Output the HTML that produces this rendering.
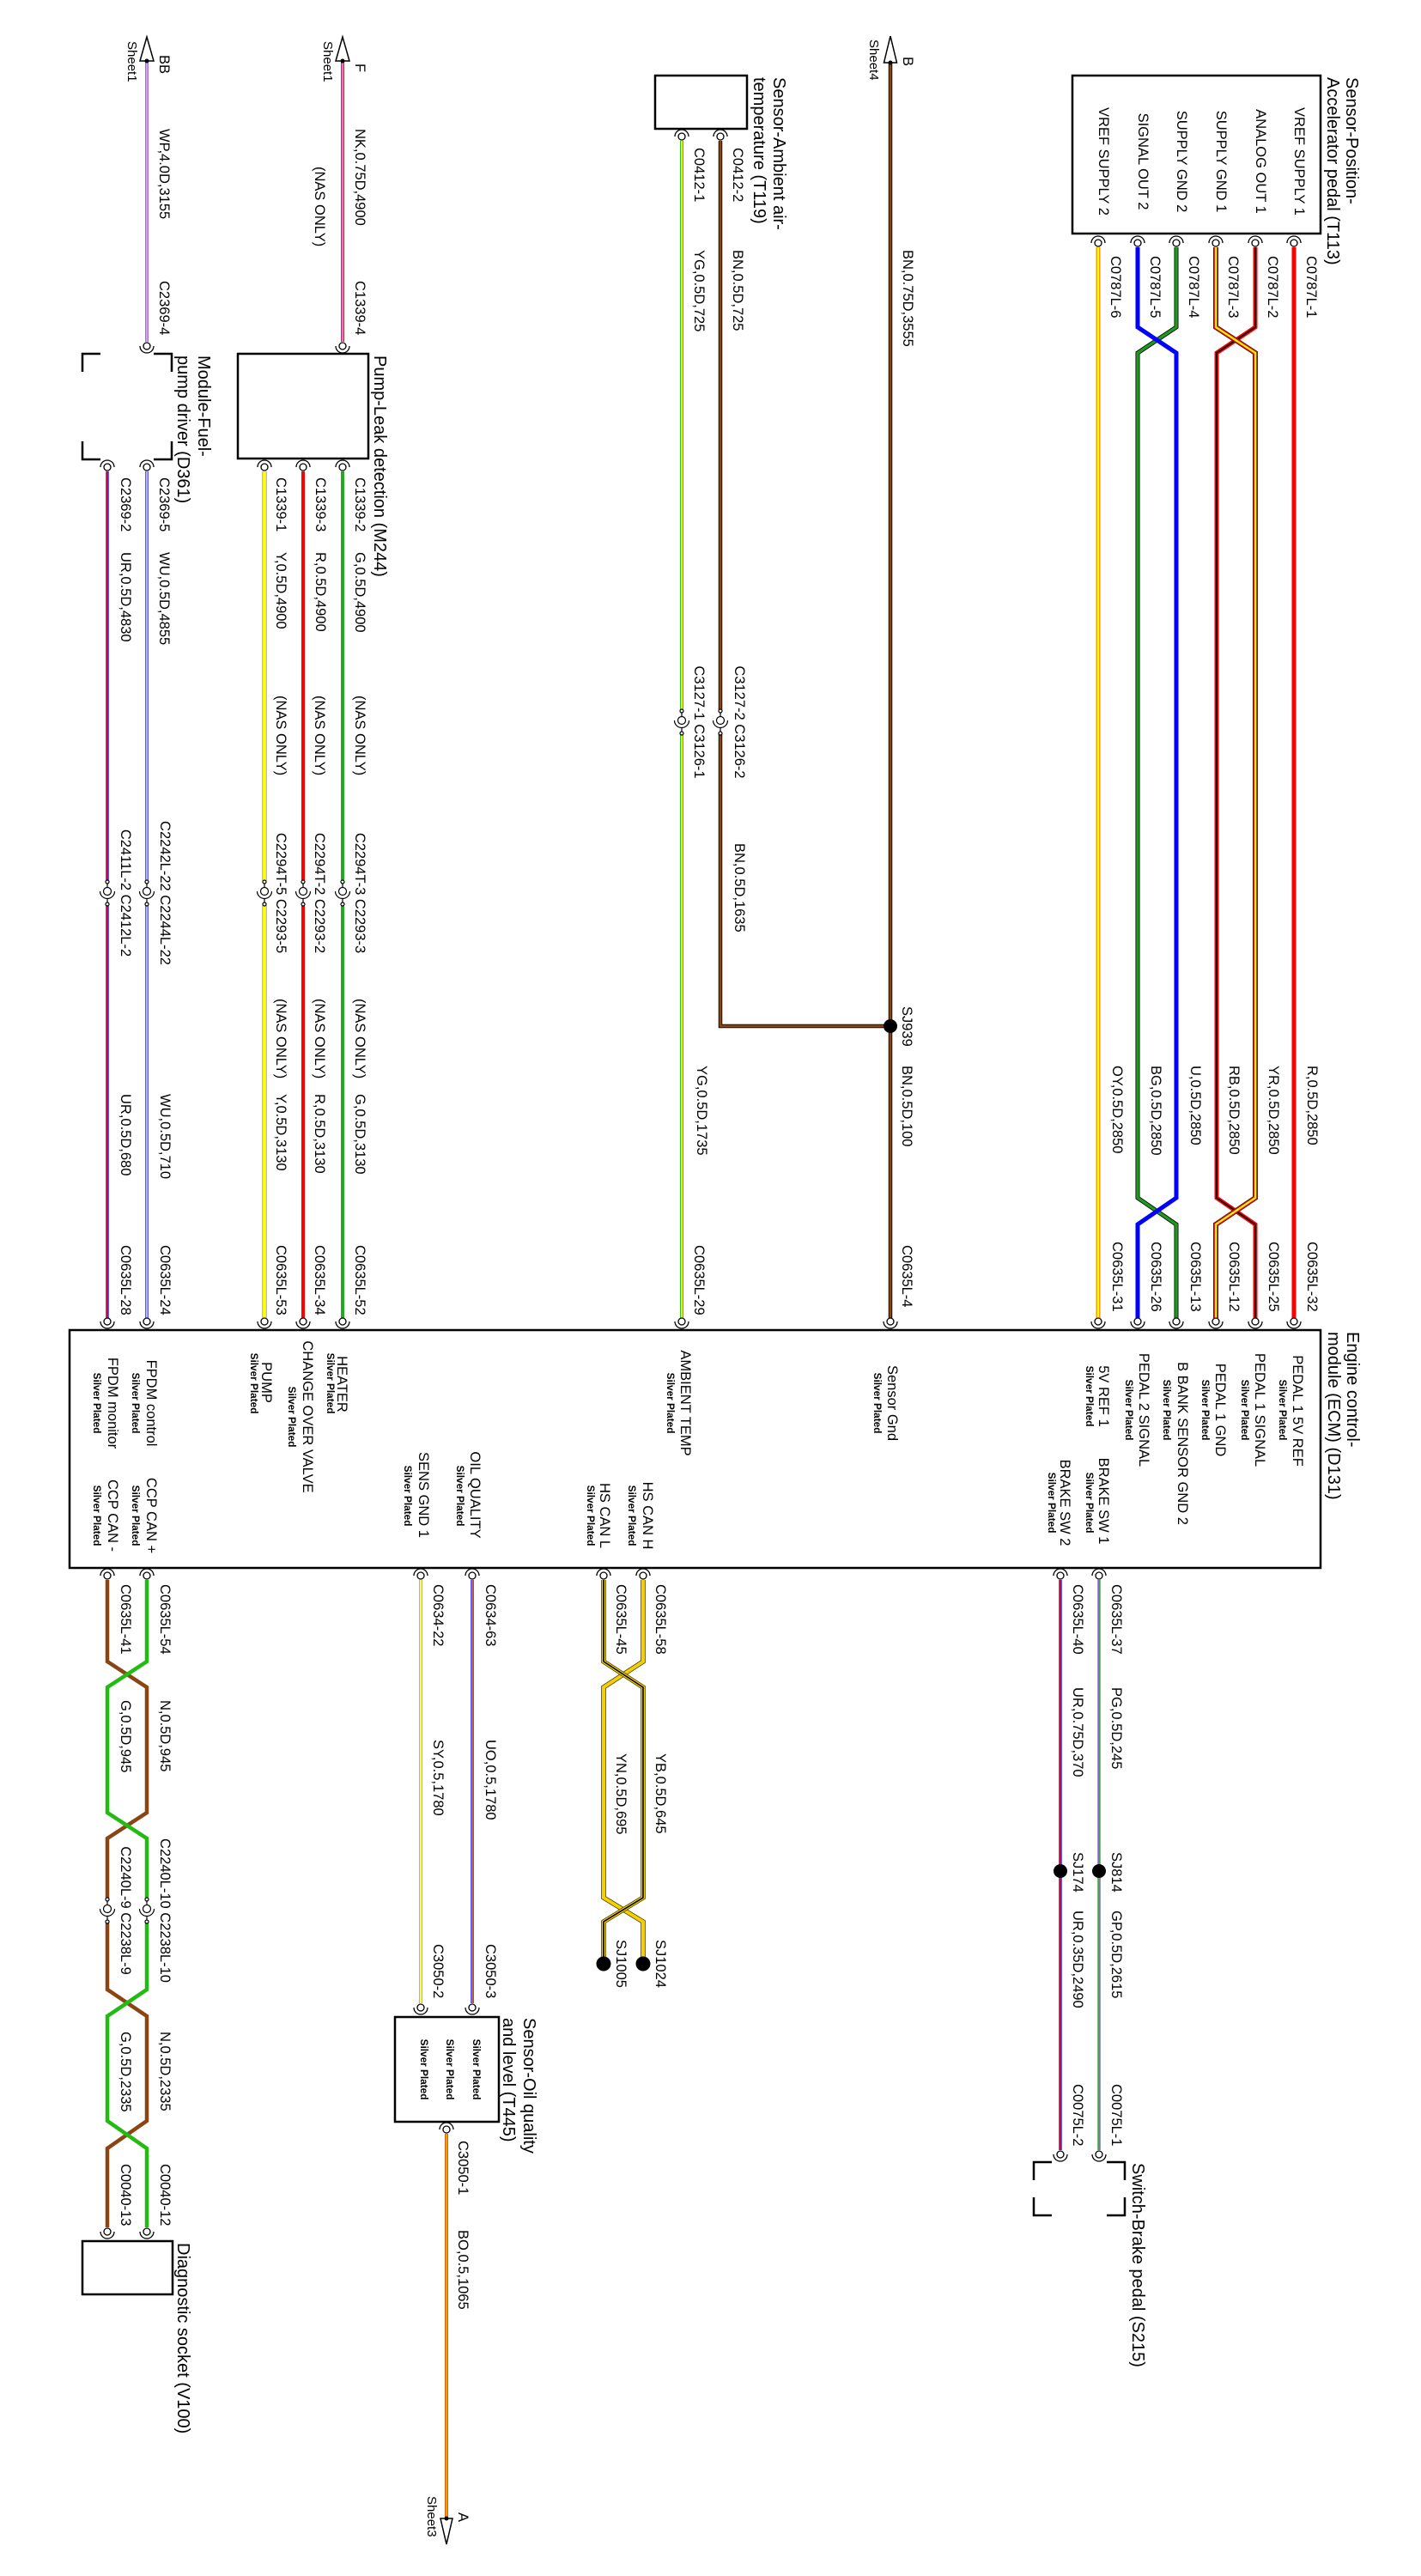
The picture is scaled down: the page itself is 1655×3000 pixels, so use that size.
<!DOCTYPE html>
<html><head><meta charset="utf-8">
<style>
html,body{margin:0;padding:0;background:#fff}
svg{display:block}
.t{font-family:"Liberation Sans",Arial,sans-serif;font-size:16.5px;fill:#000}
.ti{font-size:20px}
.sp{font-size:11.8px;font-weight:bold}
.sh{font-size:15px}
</style></head>
<body>
<svg width="1655" height="3000" viewBox="0 0 1655 3000" xmlns="http://www.w3.org/2000/svg">
<rect width="1655" height="3000" fill="#fff"/>

<!-- ================= WIRES ================= -->
<g fill="none" stroke-linejoin="miter" stroke-linecap="butt">
<!-- BB -->
<path d="M171 71V398" stroke="#9040d0" stroke-width="3.5"/>
<path d="M171 71V398" stroke="#e8c8ff" stroke-width="1.4"/>
<!-- F -->
<path d="M399 71V398" stroke="#8b3a1a" stroke-width="4"/>
<path d="M399 71V398" stroke="#ff66cc" stroke-width="2.4"/>
<!-- Pump wires -->
<path d="M399 549V1027M399 1053V1535" stroke="#22aa22" stroke-width="4"/>
<path d="M353 549V1027M353 1053V1535" stroke="#ff0000" stroke-width="4"/>
<path d="M308 549V1027M308 1053V1535" stroke="#777" stroke-width="5"/>
<path d="M308 549V1027M308 1053V1535" stroke="#ffff00" stroke-width="3.8"/>
<!-- Fuel pump driver wires -->
<path d="M171 549V1027M171 1053V1535" stroke="#2020ff" stroke-width="3.5"/>
<path d="M171 549V1027M171 1053V1535" stroke="#ffffff" stroke-width="1.3"/>
<path d="M125 549V1027M125 1053V1535" stroke="#2020ff" stroke-width="3.5"/>
<path d="M125 549V1027M125 1053V1535" stroke="#ff0000" stroke-width="1.5"/>
<!-- Ambient -->
<path d="M794 164V828M794 854V1535" stroke="#33bb33" stroke-width="4"/>
<path d="M794 164V828M794 854V1535" stroke="#ffff00" stroke-width="1.8"/>
<path d="M839 164V828M839 854V1195H1037" stroke="#000" stroke-width="4.5"/>
<path d="M839 164V828M839 854V1195H1037" stroke="#8b4513" stroke-width="2.8"/>
<!-- B -->
<path d="M1037 73V1535" stroke="#000" stroke-width="4.5"/>
<path d="M1037 73V1535" stroke="#8b4513" stroke-width="2.8"/>
<!-- Pedal wires -->
<path d="M1507 288V1535" stroke="#ff0000" stroke-width="5"/>
<path d="M1462 288V381L1417 411V1395L1462 1426V1535" stroke="#ff0000" stroke-width="5"/>
<path d="M1462 288V381L1417 411V1395L1462 1426V1535" stroke="#000" stroke-width="1.8"/>
<path d="M1416 288V381L1462 411V1395L1416 1426V1535" stroke="#222" stroke-width="6"/>
<path d="M1416 288V381L1462 411V1395L1416 1426V1535" stroke="#ff0000" stroke-width="4.6"/>
<path d="M1416 288V381L1462 411V1395L1416 1426V1535" stroke="#ffff00" stroke-width="2.2"/>
<path d="M1370 288V381L1325 411V1395L1370 1426V1535" stroke="#000" stroke-width="5"/>
<path d="M1370 288V381L1325 411V1395L1370 1426V1535" stroke="#1e9a1e" stroke-width="3.4"/>
<path d="M1325 288V381L1370 411V1395L1325 1426V1535" stroke="#0000ff" stroke-width="5"/>
<path d="M1279 288V1535" stroke="#ff9900" stroke-width="5"/>
<path d="M1279 288V1535" stroke="#ffff00" stroke-width="2"/>

<!-- Brake -->
<path d="M1280 1840V2179" stroke="#a060e0" stroke-width="3.5"/>
<path d="M1280 1840V2179" stroke="#33aa33" stroke-width="1.6"/>
<path d="M1280 2179V2504" stroke="#33aa33" stroke-width="3.5"/>
<path d="M1280 2179V2504" stroke="#a060e0" stroke-width="1.2"/>
<path d="M1235 1840V2504" stroke="#2020ff" stroke-width="3.5"/>
<path d="M1235 1840V2504" stroke="#ff0000" stroke-width="1.5"/>
<!-- CAN -->
<path d="M749 1840V1935L703 1965V2210L749 2238V2287" stroke="#3a3000" stroke-width="5.5"/>
<path d="M749 1840V1935L703 1965V2210L749 2238V2287" stroke="#f5d000" stroke-width="4"/>
<path d="M703 1840V1935L749 1965V2210L703 2238V2287" stroke="#3a3000" stroke-width="5.5"/>
<path d="M703 1840V1935L749 1965V2210L703 2238V2287" stroke="#f5d000" stroke-width="4"/>
<path d="M703 1840V1935L749 1965V2210L703 2238V2287" stroke="#000" stroke-width="1.6"/>
<!-- Oil -->
<path d="M550 1840V2333" stroke="#2020ff" stroke-width="3.5"/>
<path d="M550 1840V2333" stroke="#ff7700" stroke-width="1.4"/>
<path d="M490 1840V2333" stroke="#999" stroke-width="3.5"/>
<path d="M490 1840V2333" stroke="#ffff40" stroke-width="2"/>
<path d="M520 2485V2933" stroke="#b04000" stroke-width="3.8"/>
<path d="M520 2485V2933" stroke="#ff9900" stroke-width="2.4"/>
<!-- Diagnostic twisted pair -->
<path d="M125 1840V1935L171 1965V2111L125 2141V2212M125 2238V2317L171 2348V2470L125 2502V2594" stroke="#8b4513" stroke-width="4.5"/>
<path d="M171 1840V1935L125 1965V2111L171 2141V2212M171 2238V2317L125 2348V2470L171 2502V2594" stroke="#22bb11" stroke-width="4.5"/>
</g>

<!-- ================= BOXES ================= -->
<g fill="none" stroke="#000" stroke-width="2.5">
<rect x="1249" y="88" width="289" height="184"/>
<rect x="763" y="88" width="107" height="62"/>
<rect x="277" y="412" width="152" height="122"/>
<rect x="81" y="1549" width="1457" height="277"/>
<rect x="460" y="2349" width="121" height="122"/>
<rect x="96" y="2610" width="105" height="62"/>
<path d="M96 433V412H117M179 412H200V433M96 514V535H117M179 535H200V514"/>
<path d="M1204 2539V2518H1225M1289 2518H1310V2539M1204 2559V2580H1225M1289 2580H1310V2559"/>
</g>

<!-- ================= ARROWS / DOTS ================= -->
<g stroke="#000" stroke-width="1.5" fill="#fff">
<polygon points="1037,42 1029.5,73 1044.5,73"/>
<polygon points="399,43 391,71 407,71"/>
<polygon points="171,43 163,71 179,71"/>
<polygon points="520,2963 513,2933 527,2933"/>
</g>
<g fill="#000">
<circle cx="1037" cy="73" r="2.5"/><circle cx="399" cy="71" r="2.5"/><circle cx="171" cy="71" r="2.5"/><circle cx="520" cy="2933" r="2.5"/>
<circle cx="1037" cy="1195" r="8"/>
<circle cx="1280" cy="2179" r="8"/><circle cx="1235" cy="2179" r="8"/>
<circle cx="749" cy="2287" r="8.5"/><circle cx="703" cy="2287" r="8.5"/>
</g>

<!-- ================= PINS ================= -->
<g fill="#fff" stroke="#000" stroke-width="1.3">
<!-- arc below -->
<circle cx="171" cy="403" r="4"/><path fill="none" d="M163 403A8 8 0 0 0 179 403"/>
<circle cx="399" cy="403" r="4"/><path fill="none" d="M391 403A8 8 0 0 0 407 403"/>
<circle cx="125" cy="1539" r="4"/><path fill="none" d="M117 1539A8 8 0 0 0 133 1539"/>
<circle cx="171" cy="1539" r="4"/><path fill="none" d="M163 1539A8 8 0 0 0 179 1539"/>
<circle cx="308" cy="1539" r="4"/><path fill="none" d="M300 1539A8 8 0 0 0 316 1539"/>
<circle cx="353" cy="1539" r="4"/><path fill="none" d="M345 1539A8 8 0 0 0 361 1539"/>
<circle cx="399" cy="1539" r="4"/><path fill="none" d="M391 1539A8 8 0 0 0 407 1539"/>
<circle cx="794" cy="1539" r="4"/><path fill="none" d="M786 1539A8 8 0 0 0 802 1539"/>
<circle cx="1037" cy="1539" r="4"/><path fill="none" d="M1029 1539A8 8 0 0 0 1045 1539"/>
<circle cx="1279" cy="1539" r="4"/><path fill="none" d="M1271 1539A8 8 0 0 0 1287 1539"/>
<circle cx="1325" cy="1539" r="4"/><path fill="none" d="M1317 1539A8 8 0 0 0 1333 1539"/>
<circle cx="1370" cy="1539" r="4"/><path fill="none" d="M1362 1539A8 8 0 0 0 1378 1539"/>
<circle cx="1416" cy="1539" r="4"/><path fill="none" d="M1408 1539A8 8 0 0 0 1424 1539"/>
<circle cx="1462" cy="1539" r="4"/><path fill="none" d="M1454 1539A8 8 0 0 0 1470 1539"/>
<circle cx="1507" cy="1539" r="4"/><path fill="none" d="M1499 1539A8 8 0 0 0 1515 1539"/>
<circle cx="490" cy="2338" r="4"/><path fill="none" d="M482 2338A8 8 0 0 0 498 2338"/>
<circle cx="550" cy="2338" r="4"/><path fill="none" d="M542 2338A8 8 0 0 0 558 2338"/>
<circle cx="1235" cy="2509" r="4"/><path fill="none" d="M1227 2509A8 8 0 0 0 1243 2509"/>
<circle cx="1280" cy="2509" r="4"/><path fill="none" d="M1272 2509A8 8 0 0 0 1288 2509"/>
<circle cx="125" cy="2599" r="4"/><path fill="none" d="M117 2599A8 8 0 0 0 133 2599"/>
<circle cx="171" cy="2599" r="4"/><path fill="none" d="M163 2599A8 8 0 0 0 179 2599"/>
<!-- arc above -->
<circle cx="1279" cy="283" r="4"/><path fill="none" d="M1271 283A8 8 0 0 1 1287 283"/>
<circle cx="1325" cy="283" r="4"/><path fill="none" d="M1317 283A8 8 0 0 1 1333 283"/>
<circle cx="1370" cy="283" r="4"/><path fill="none" d="M1362 283A8 8 0 0 1 1378 283"/>
<circle cx="1416" cy="283" r="4"/><path fill="none" d="M1408 283A8 8 0 0 1 1424 283"/>
<circle cx="1462" cy="283" r="4"/><path fill="none" d="M1454 283A8 8 0 0 1 1470 283"/>
<circle cx="1507" cy="283" r="4"/><path fill="none" d="M1499 283A8 8 0 0 1 1515 283"/>
<circle cx="794" cy="159" r="4"/><path fill="none" d="M786 159A8 8 0 0 1 802 159"/>
<circle cx="839" cy="159" r="4"/><path fill="none" d="M831 159A8 8 0 0 1 847 159"/>
<circle cx="308" cy="544" r="4"/><path fill="none" d="M300 544A8 8 0 0 1 316 544"/>
<circle cx="353" cy="544" r="4"/><path fill="none" d="M345 544A8 8 0 0 1 361 544"/>
<circle cx="399" cy="544" r="4"/><path fill="none" d="M391 544A8 8 0 0 1 407 544"/>
<circle cx="125" cy="544" r="4"/><path fill="none" d="M117 544A8 8 0 0 1 133 544"/>
<circle cx="171" cy="544" r="4"/><path fill="none" d="M163 544A8 8 0 0 1 179 544"/>
<circle cx="125" cy="1835" r="4"/><path fill="none" d="M117 1835A8 8 0 0 1 133 1835"/>
<circle cx="171" cy="1835" r="4"/><path fill="none" d="M163 1835A8 8 0 0 1 179 1835"/>
<circle cx="490" cy="1835" r="4"/><path fill="none" d="M482 1835A8 8 0 0 1 498 1835"/>
<circle cx="550" cy="1835" r="4"/><path fill="none" d="M542 1835A8 8 0 0 1 558 1835"/>
<circle cx="703" cy="1835" r="4"/><path fill="none" d="M695 1835A8 8 0 0 1 711 1835"/>
<circle cx="749" cy="1835" r="4"/><path fill="none" d="M741 1835A8 8 0 0 1 757 1835"/>
<circle cx="1235" cy="1835" r="4"/><path fill="none" d="M1227 1835A8 8 0 0 1 1243 1835"/>
<circle cx="1280" cy="1835" r="4"/><path fill="none" d="M1272 1835A8 8 0 0 1 1288 1835"/>
<circle cx="520" cy="2480" r="4"/><path fill="none" d="M512 2480A8 8 0 0 1 528 2480"/>
</g>

<!-- ================= INLINE CONNECTORS ================= -->
<g fill="#fff" stroke="#000" stroke-width="1.2">
<!-- c=1040 -->
<path fill="none" d="M125 1029V1033.5M125 1046.5V1051M171 1029V1033.5M171 1046.5V1051M308 1029V1033.5M308 1046.5V1051M353 1029V1033.5M353 1046.5V1051M399 1029V1033.5M399 1046.5V1051"/>
<circle cx="125" cy="1027" r="2"/><circle cx="125" cy="1053" r="2"/><circle cx="125" cy="1038" r="4.5"/><path fill="none" d="M116.5 1038A8.5 8.5 0 0 0 133.5 1038"/>
<circle cx="171" cy="1027" r="2"/><circle cx="171" cy="1053" r="2"/><circle cx="171" cy="1038" r="4.5"/><path fill="none" d="M162.5 1038A8.5 8.5 0 0 0 179.5 1038"/>
<circle cx="308" cy="1027" r="2"/><circle cx="308" cy="1053" r="2"/><circle cx="308" cy="1038" r="4.5"/><path fill="none" d="M299.5 1038A8.5 8.5 0 0 0 316.5 1038"/>
<circle cx="353" cy="1027" r="2"/><circle cx="353" cy="1053" r="2"/><circle cx="353" cy="1038" r="4.5"/><path fill="none" d="M344.5 1038A8.5 8.5 0 0 0 361.5 1038"/>
<circle cx="399" cy="1027" r="2"/><circle cx="399" cy="1053" r="2"/><circle cx="399" cy="1038" r="4.5"/><path fill="none" d="M390.5 1038A8.5 8.5 0 0 0 407.5 1038"/>
<!-- c=841 -->
<path fill="none" d="M794 830V834.5M794 847.5V852M839 830V834.5M839 847.5V852"/>
<circle cx="794" cy="828" r="2"/><circle cx="794" cy="854" r="2"/><circle cx="794" cy="839" r="4.5"/><path fill="none" d="M785.5 839A8.5 8.5 0 0 0 802.5 839"/>
<circle cx="839" cy="828" r="2"/><circle cx="839" cy="854" r="2"/><circle cx="839" cy="839" r="4.5"/><path fill="none" d="M830.5 839A8.5 8.5 0 0 0 847.5 839"/>
<!-- c=2225 -->
<path fill="none" d="M125 2214V2218.5M125 2231.5V2236M171 2214V2218.5M171 2231.5V2236"/>
<circle cx="125" cy="2212" r="2"/><circle cx="125" cy="2238" r="2"/><circle cx="125" cy="2223" r="4.5"/><path fill="none" d="M116.5 2223A8.5 8.5 0 0 0 133.5 2223"/>
<circle cx="171" cy="2212" r="2"/><circle cx="171" cy="2238" r="2"/><circle cx="171" cy="2223" r="4.5"/><path fill="none" d="M162.5 2223A8.5 8.5 0 0 0 179.5 2223"/>
</g>

<!-- ================= TEXT ================= -->
<g class="t">
<!-- BB / F -->
<text x="186" y="64" transform="rotate(90 186 64)">BB</text>
<text class="t sh" x="149" y="48" transform="rotate(90 149 48)">Sheet1</text>
<text x="186" y="150" transform="rotate(90 186 150)">WP,4.0D,3155</text>
<text x="186" y="327" transform="rotate(90 186 327)">C2369-4</text>
<text x="414" y="74" transform="rotate(90 414 74)">F</text>
<text class="t sh" x="377" y="48" transform="rotate(90 377 48)">Sheet1</text>
<text x="414" y="150" transform="rotate(90 414 150)">NK,0.75D,4900</text>
<text x="367" y="194" transform="rotate(90 367 194)">(NAS ONLY)</text>
<text x="414" y="327" transform="rotate(90 414 327)">C1339-4</text>

<!-- Pump / fuel titles -->
<text class="t ti" x="436" y="414" transform="rotate(90 436 414)">Pump-Leak detection (M244)</text>
<text class="t ti" x="231" y="414" transform="rotate(90 231 414)">Module-Fuel-</text>
<text class="t ti" x="207" y="414" transform="rotate(90 207 414)">pump driver (D361)</text>

<text x="414" y="556" transform="rotate(90 414 556)">C1339-2</text>
<text x="414" y="643" transform="rotate(90 414 643)">G,0.5D,4900</text>
<text x="368" y="556" transform="rotate(90 368 556)">C1339-3</text>
<text x="368" y="643" transform="rotate(90 368 643)">R,0.5D,4900</text>
<text x="322" y="556" transform="rotate(90 322 556)">C1339-1</text>
<text x="322" y="643" transform="rotate(90 322 643)">Y,0.5D,4900</text>
<text x="186" y="556" transform="rotate(90 186 556)">C2369-5</text>
<text x="186" y="643" transform="rotate(90 186 643)">WU,0.5D,4855</text>
<text x="141" y="556" transform="rotate(90 141 556)">C2369-2</text>
<text x="141" y="643" transform="rotate(90 141 643)">UR,0.5D,4830</text>

<text x="414" y="810" transform="rotate(90 414 810)">(NAS ONLY)</text>
<text x="367" y="810" transform="rotate(90 367 810)">(NAS ONLY)</text>
<text x="322" y="810" transform="rotate(90 322 810)">(NAS ONLY)</text>

<text x="414" y="1040" text-anchor="middle" transform="rotate(90 414 1040)">C2294T-3 C2293-3</text>
<text x="367" y="1040" text-anchor="middle" transform="rotate(90 367 1040)">C2294T-2 C2293-2</text>
<text x="322" y="1040" text-anchor="middle" transform="rotate(90 322 1040)">C2294T-5 C2293-5</text>
<text x="187" y="1040" text-anchor="middle" transform="rotate(90 187 1040)">C2242L-22 C2244L-22</text>
<text x="141" y="1040" text-anchor="middle" transform="rotate(90 141 1040)">C2411L-2 C2412L-2</text>

<text x="414" y="1163" transform="rotate(90 414 1163)">(NAS ONLY)</text>
<text x="367" y="1163" transform="rotate(90 367 1163)">(NAS ONLY)</text>
<text x="322" y="1163" transform="rotate(90 322 1163)">(NAS ONLY)</text>
<text x="414" y="1274" transform="rotate(90 414 1274)">G,0.5D,3130</text>
<text x="367" y="1274" transform="rotate(90 367 1274)">R,0.5D,3130</text>
<text x="322" y="1274" transform="rotate(90 322 1274)">Y,0.5D,3130</text>
<text x="187" y="1274" transform="rotate(90 187 1274)">WU,0.5D,710</text>
<text x="141" y="1274" transform="rotate(90 141 1274)">UR,0.5D,680</text>

<text x="414" y="1450" transform="rotate(90 414 1450)">C0635L-52</text>
<text x="367" y="1450" transform="rotate(90 367 1450)">C0635L-34</text>
<text x="322" y="1450" transform="rotate(90 322 1450)">C0635L-53</text>
<text x="187" y="1450" transform="rotate(90 187 1450)">C0635L-24</text>
<text x="141" y="1450" transform="rotate(90 141 1450)">C0635L-28</text>

<!-- Ambient -->
<text class="t ti" x="901" y="90" transform="rotate(90 901 90)">Sensor-Ambient air-</text>
<text class="t ti" x="878" y="90" transform="rotate(90 878 90)">temperature (T119)</text>
<text x="854" y="172" transform="rotate(90 854 172)">C0412-2</text>
<text x="809" y="172" transform="rotate(90 809 172)">C0412-1</text>
<text x="854" y="291" transform="rotate(90 854 291)">BN,0.5D,725</text>
<text x="809" y="291" transform="rotate(90 809 291)">YG,0.5D,725</text>
<text x="856" y="841" text-anchor="middle" transform="rotate(90 856 841)">C3127-2 C3126-2</text>
<text x="809" y="841" text-anchor="middle" transform="rotate(90 809 841)">C3127-1 C3126-1</text>
<text x="856" y="982" transform="rotate(90 856 982)">BN,0.5D,1635</text>
<text x="812" y="1241" transform="rotate(90 812 1241)">YG,0.5D,1735</text>
<text x="809" y="1450" transform="rotate(90 809 1450)">C0635L-29</text>

<!-- B -->
<text x="1052" y="66" transform="rotate(90 1052 66)">B</text>
<text class="t sh" x="1013" y="46" transform="rotate(90 1013 46)">Sheet4</text>
<text x="1052" y="291" transform="rotate(90 1052 291)">BN,0.75D,3555</text>
<text x="1051" y="1172" transform="rotate(90 1051 1172)">SJ939</text>
<text x="1051" y="1241" transform="rotate(90 1051 1241)">BN,0.5D,100</text>
<text x="1051" y="1450" transform="rotate(90 1051 1450)">C0635L-4</text>

<!-- Pedal -->
<text class="t ti" x="1568" y="90" transform="rotate(90 1568 90)">Sensor-Position-</text>
<text class="t ti" x="1546" y="90" transform="rotate(90 1546 90)">Accelerator pedal (T113)</text>
<text x="1508" y="188" text-anchor="middle" transform="rotate(90 1508 188)">VREF SUPPLY 1</text>
<text x="1463" y="188" text-anchor="middle" transform="rotate(90 1463 188)">ANALOG OUT 1</text>
<text x="1417" y="188" text-anchor="middle" transform="rotate(90 1417 188)">SUPPLY GND 1</text>
<text x="1371" y="188" text-anchor="middle" transform="rotate(90 1371 188)">SUPPLY GND 2</text>
<text x="1326" y="188" text-anchor="middle" transform="rotate(90 1326 188)">SIGNAL OUT 2</text>
<text x="1280" y="188" text-anchor="middle" transform="rotate(90 1280 188)">VREF SUPPLY 2</text>
<text x="1522" y="298" transform="rotate(90 1522 298)">C0787L-1</text>
<text x="1477" y="298" transform="rotate(90 1477 298)">C0787L-2</text>
<text x="1431" y="298" transform="rotate(90 1431 298)">C0787L-3</text>
<text x="1385" y="298" transform="rotate(90 1385 298)">C0787L-4</text>
<text x="1340" y="298" transform="rotate(90 1340 298)">C0787L-5</text>
<text x="1294" y="298" transform="rotate(90 1294 298)">C0787L-6</text>
<text x="1523" y="1241" transform="rotate(90 1523 1241)">R,0.5D,2850</text>
<text x="1478" y="1241" transform="rotate(90 1478 1241)">YR,0.5D,2850</text>
<text x="1432" y="1241" transform="rotate(90 1432 1241)">RB,0.5D,2850</text>
<text x="1387" y="1241" transform="rotate(90 1387 1241)">U,0.5D,2850</text>
<text x="1341" y="1241" transform="rotate(90 1341 1241)">BG,0.5D,2850</text>
<text x="1296" y="1241" transform="rotate(90 1296 1241)">OY,0.5D,2850</text>
<text x="1523" y="1446" transform="rotate(90 1523 1446)">C0635L-32</text>
<text x="1478" y="1446" transform="rotate(90 1478 1446)">C0635L-25</text>
<text x="1432" y="1446" transform="rotate(90 1432 1446)">C0635L-12</text>
<text x="1387" y="1446" transform="rotate(90 1387 1446)">C0635L-13</text>
<text x="1341" y="1446" transform="rotate(90 1341 1446)">C0635L-26</text>
<text x="1296" y="1446" transform="rotate(90 1296 1446)">C0635L-31</text>

<!-- ECM -->
<text class="t ti" x="1569" y="1551" transform="rotate(90 1569 1551)">Engine control-</text>
<text class="t ti" x="1547" y="1551" transform="rotate(90 1547 1551)">module (ECM) (D131)</text>
<g text-anchor="middle">
<text x="1506" y="1643" transform="rotate(90 1506 1643)">PEDAL 1 5V REF</text>
<text class="t sp" x="1490" y="1642" transform="rotate(90 1490 1642)">Silver Plated</text>
<text x="1462" y="1642" transform="rotate(90 1462 1642)">PEDAL 1 SIGNAL</text>
<text class="t sp" x="1446" y="1642" transform="rotate(90 1446 1642)">Silver Plated</text>
<text x="1416" y="1642" transform="rotate(90 1416 1642)">PEDAL 1 GND</text>
<text class="t sp" x="1400" y="1642" transform="rotate(90 1400 1642)">Silver Plated</text>
<text x="1372" y="1681" transform="rotate(90 1372 1681)">B BANK SENSOR GND 2</text>
<text class="t sp" x="1355" y="1642" transform="rotate(90 1355 1642)">Silver Plated</text>
<text x="1327" y="1642" transform="rotate(90 1327 1642)">PEDAL 2 SIGNAL</text>
<text class="t sp" x="1311" y="1642" transform="rotate(90 1311 1642)">Silver Plated</text>
<text x="1280" y="1626" transform="rotate(90 1280 1626)">5V REF 1</text>
<text class="t sp" x="1265" y="1626" transform="rotate(90 1265 1626)">Silver Plated</text>
<text x="1280" y="1748" transform="rotate(90 1280 1748)">BRAKE SW 1</text>
<text class="t sp" x="1265" y="1750" transform="rotate(90 1265 1750)">Silver Plated</text>
<text x="1235" y="1750" transform="rotate(90 1235 1750)">BRAKE SW 2</text>
<text class="t sp" x="1221" y="1750" transform="rotate(90 1221 1750)">Silver Plated</text>
<text x="1034" y="1634" transform="rotate(90 1034 1634)">Sensor Gnd</text>
<text class="t sp" x="1018" y="1634" transform="rotate(90 1018 1634)">Silver Plated</text>
<text x="793" y="1634" transform="rotate(90 793 1634)">AMBIENT TEMP</text>
<text class="t sp" x="777" y="1634" transform="rotate(90 777 1634)">Silver Plated</text>
<text x="749" y="1765" transform="rotate(90 749 1765)">HS CAN H</text>
<text class="t sp" x="732" y="1765" transform="rotate(90 732 1765)">Silver Plated</text>
<text x="699" y="1765" transform="rotate(90 699 1765)">HS CAN L</text>
<text class="t sp" x="684" y="1765" transform="rotate(90 684 1765)">Silver Plated</text>
<text x="548" y="1741" transform="rotate(90 548 1741)">OIL QUALITY</text>
<text class="t sp" x="532" y="1742" transform="rotate(90 532 1742)">Silver Plated</text>
<text x="488" y="1741" transform="rotate(90 488 1741)">SENS GND 1</text>
<text class="t sp" x="471" y="1742" transform="rotate(90 471 1742)">Silver Plated</text>
<text x="393" y="1612" transform="rotate(90 393 1612)">HEATER</text>
<text class="t sp" x="381" y="1611" transform="rotate(90 381 1611)">Silver Plated</text>
<text x="353" y="1650" transform="rotate(90 353 1650)">CHANGE OVER VALVE</text>
<text class="t sp" x="336" y="1650" transform="rotate(90 336 1650)">Silver Plated</text>
<text x="305" y="1610" transform="rotate(90 305 1610)">PUMP</text>
<text class="t sp" x="292" y="1611" transform="rotate(90 292 1611)">Silver Plated</text>
<text x="171" y="1634" transform="rotate(90 171 1634)">FPDM control</text>
<text class="t sp" x="154" y="1634" transform="rotate(90 154 1634)">Silver Plated</text>
<text x="126" y="1634" transform="rotate(90 126 1634)">FPDM monitor</text>
<text class="t sp" x="109" y="1634" transform="rotate(90 109 1634)">Silver Plated</text>
<text x="171" y="1765" transform="rotate(90 171 1765)">CCP CAN +</text>
<text class="t sp" x="154" y="1765" transform="rotate(90 154 1765)">Silver Plated</text>
<text x="126" y="1765" transform="rotate(90 126 1765)">CCP CAN -</text>
<text class="t sp" x="109" y="1765" transform="rotate(90 109 1765)">Silver Plated</text>
</g>

<!-- Brake -->
<text x="1295" y="1845" transform="rotate(90 1295 1845)">C0635L-37</text>
<text x="1250" y="1845" transform="rotate(90 1250 1845)">C0635L-40</text>
<text x="1295" y="1965" transform="rotate(90 1295 1965)">PG,0.5D,245</text>
<text x="1250" y="1965" transform="rotate(90 1250 1965)">UR,0.75D,370</text>
<text x="1295" y="2157" transform="rotate(90 1295 2157)">SJ814</text>
<text x="1250" y="2157" transform="rotate(90 1250 2157)">SJ174</text>
<text x="1295" y="2225" transform="rotate(90 1295 2225)">GP,0.5D,2615</text>
<text x="1250" y="2225" transform="rotate(90 1250 2225)">UR,0.35D,2490</text>
<text x="1295" y="2427" transform="rotate(90 1295 2427)">C0075L-1</text>
<text x="1250" y="2427" transform="rotate(90 1250 2427)">C0075L-2</text>
<text class="t ti" x="1319" y="2519" transform="rotate(90 1319 2519)">Switch-Brake pedal (S215)</text>

<!-- CAN -->
<text x="764" y="1845" transform="rotate(90 764 1845)">C0635L-58</text>
<text x="718" y="1845" transform="rotate(90 718 1845)">C0635L-45</text>
<text x="764" y="2042" transform="rotate(90 764 2042)">YB,0.5D,645</text>
<text x="718" y="2042" transform="rotate(90 718 2042)">YN,0.5D,695</text>
<text x="764" y="2259" transform="rotate(90 764 2259)">SJ1024</text>
<text x="718" y="2259" transform="rotate(90 718 2259)">SJ1005</text>

<!-- Oil -->
<text x="566" y="1845" transform="rotate(90 566 1845)">C0634-63</text>
<text x="505" y="1845" transform="rotate(90 505 1845)">C0634-22</text>
<text x="566" y="2026" transform="rotate(90 566 2026)">UO,0.5,1780</text>
<text x="505" y="2026" transform="rotate(90 505 2026)">SY,0.5,1780</text>
<text x="566" y="2264" transform="rotate(90 566 2264)">C3050-3</text>
<text x="505" y="2264" transform="rotate(90 505 2264)">C3050-2</text>
<text class="t ti" x="610" y="2350" transform="rotate(90 610 2350)">Sensor-Oil quality</text>
<text class="t ti" x="586" y="2350" transform="rotate(90 586 2350)">and level (T445)</text>
<text class="t sp" x="551" y="2410" text-anchor="middle" transform="rotate(90 551 2410)">Silver Plated</text>
<text class="t sp" x="520" y="2410" text-anchor="middle" transform="rotate(90 520 2410)">Silver Plated</text>
<text class="t sp" x="490" y="2410" text-anchor="middle" transform="rotate(90 490 2410)">Silver Plated</text>
<text x="534" y="2493" transform="rotate(90 534 2493)">C3050-1</text>
<text x="534" y="2597" transform="rotate(90 534 2597)">BO,0.5,1065</text>
<text x="534" y="2926" transform="rotate(90 534 2926)">A</text>
<text class="t sh" x="498" y="2907" transform="rotate(90 498 2907)">Sheet3</text>

<!-- Diagnostic -->
<text x="187" y="1845" transform="rotate(90 187 1845)">C0635L-54</text>
<text x="141" y="1845" transform="rotate(90 141 1845)">C0635L-41</text>
<text x="187" y="1980" transform="rotate(90 187 1980)">N,0.5D,945</text>
<text x="141" y="1980" transform="rotate(90 141 1980)">G,0.5D,945</text>
<text x="187" y="2225" text-anchor="middle" transform="rotate(90 187 2225)">C2240L-10 C2238L-10</text>
<text x="141" y="2225" text-anchor="middle" transform="rotate(90 141 2225)">C2240L-9 C2238L-9</text>
<text x="187" y="2366" transform="rotate(90 187 2366)">N,0.5D,2335</text>
<text x="141" y="2366" transform="rotate(90 141 2366)">G,0.5D,2335</text>
<text x="187" y="2520" transform="rotate(90 187 2520)">C0040-12</text>
<text x="141" y="2520" transform="rotate(90 141 2520)">C0040-13</text>
<text class="t ti" x="207" y="2612" transform="rotate(90 207 2612)">Diagnostic socket (V100)</text>
</g>
</svg>
</body></html>
